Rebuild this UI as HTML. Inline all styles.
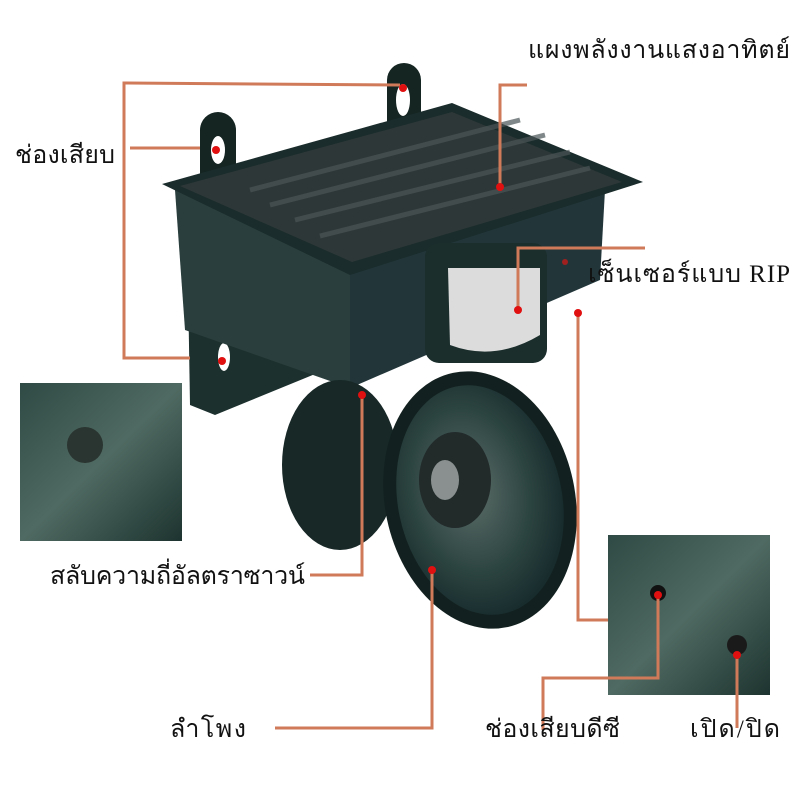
<!DOCTYPE html>
<html><head><meta charset="utf-8"><style>
body{margin:0;background:#fff}
svg{display:block}
text{font-family:"Liberation Serif","DejaVu Serif",serif;font-size:25px;fill:#111}
</style></head><body>
<svg width="800" height="800" viewBox="0 0 800 800" xmlns="http://www.w3.org/2000/svg">
<defs>
<radialGradient id="cone" cx="0.45" cy="0.45" r="0.6"><stop offset="0" stop-color="#5d6e6a"/><stop offset="0.6" stop-color="#2c4440"/><stop offset="1" stop-color="#14272a"/></radialGradient>
<linearGradient id="inl" x1="0" y1="0" x2="1" y2="1"><stop offset="0" stop-color="#2f4a44"/><stop offset="0.5" stop-color="#4f6a62"/><stop offset="1" stop-color="#1d332f"/></linearGradient>
</defs>
<!-- bracket -->
<polygon points="188,285 345,330 320,372 215,415 190,405" fill="#1c302d"/>
<ellipse cx="224" cy="357" rx="6" ry="14" fill="#fff"/>
<!-- tabs -->
<rect x="200" y="112" width="36" height="110" rx="18" fill="#142522"/>
<ellipse cx="218" cy="150" rx="7" ry="14" fill="#fff"/>
<rect x="387" y="63" width="34" height="105" rx="17" fill="#142522"/>
<ellipse cx="403" cy="100" rx="7" ry="16" fill="#fff"/>
<!-- box faces -->
<polygon points="175,190 350,255 350,388 185,330" fill="#2a3f3d"/>
<polygon points="350,255 605,190 600,280 350,388" fill="#22363a"/>
<!-- solar panel -->
<polygon points="162,184 452,103 643,182 350,275" fill="#1a2c2b"/>
<polygon points="180,186 452,112 622,182 352,262" fill="#2d3738"/>
<g stroke="#4b5556" stroke-width="5" opacity="0.7">
<line x1="250" y1="190" x2="520" y2="120"/><line x1="270" y1="205" x2="545" y2="135"/><line x1="295" y1="220" x2="570" y2="152"/><line x1="320" y1="236" x2="590" y2="168"/>
</g>
<!-- sensor -->
<rect x="425" y="243" width="122" height="120" rx="14" fill="#1b2e2c"/>
<path d="M448 268 H540 V335 Q495 362 450 345 Z" fill="#dcdcdc"/>
<circle cx="565" cy="262" r="3" fill="#a02020"/>
<!-- speaker -->
<ellipse cx="340" cy="465" rx="58" ry="85" fill="#172826"/>
<ellipse cx="480" cy="500" rx="95" ry="130" transform="rotate(-12 480 500)" fill="#12211f"/>
<ellipse cx="480" cy="500" rx="82" ry="116" transform="rotate(-12 480 500)" fill="url(#cone)"/>
<ellipse cx="455" cy="480" rx="36" ry="48" fill="#222a2a"/>
<ellipse cx="445" cy="480" rx="14" ry="20" fill="#8a9090"/>
<!-- insets -->
<rect x="20" y="383" width="162" height="158" fill="url(#inl)"/>
<circle cx="85" cy="445" r="18" fill="#2a3430"/>
<rect x="608" y="535" width="162" height="160" fill="url(#inl)"/>
<circle cx="658" cy="593" r="8" fill="#111"/>
<circle cx="737" cy="645" r="10" fill="#1a1a1a"/>
<!-- connectors -->
<g stroke="#d07a5a" stroke-width="3" fill="none">
<polyline points="400,85 124,83 124,358 190,358"/>
<polyline points="130,148 200,148"/>
<polyline points="500,187 500,85 527,85"/>
<polyline points="518,310 518,248 645,248"/>
<polyline points="578,313 578,620 608,620"/>
<polyline points="362,395 362,575 310,575"/>
<polyline points="432,570 432,728 275,728"/>
<polyline points="658,595 658,678 543,678 543,730"/>
<polyline points="737,655 737,728"/>
</g>
<!-- dots -->
<g fill="#e01010">
<circle cx="403" cy="88" r="4"/><circle cx="216" cy="150" r="4"/><circle cx="222" cy="361" r="4"/><circle cx="500" cy="187" r="4"/><circle cx="518" cy="310" r="4"/><circle cx="578" cy="313" r="4"/><circle cx="362" cy="395" r="4"/><circle cx="432" cy="570" r="4"/><circle cx="658" cy="595" r="4"/><circle cx="737" cy="655" r="4"/>
</g>
<!-- labels -->
<text x="528" y="58" textLength="262">แผงพลังงานแสงอาทิตย์</text>
<text x="15" y="163" textLength="100">ช่องเสียบ</text>
<text x="588" y="282" textLength="202">เซ็นเซอร์แบบ RIP</text>
<text x="50" y="584" textLength="255">สลับความถี่อัลตราซาวน์</text>
<text x="170" y="737" textLength="76">ลำโพง</text>
<text x="485" y="737" textLength="135">ช่องเสียบดีซี</text>
<text x="690" y="737" textLength="90">เปิด/ปิด</text>
</svg>
</body></html>
